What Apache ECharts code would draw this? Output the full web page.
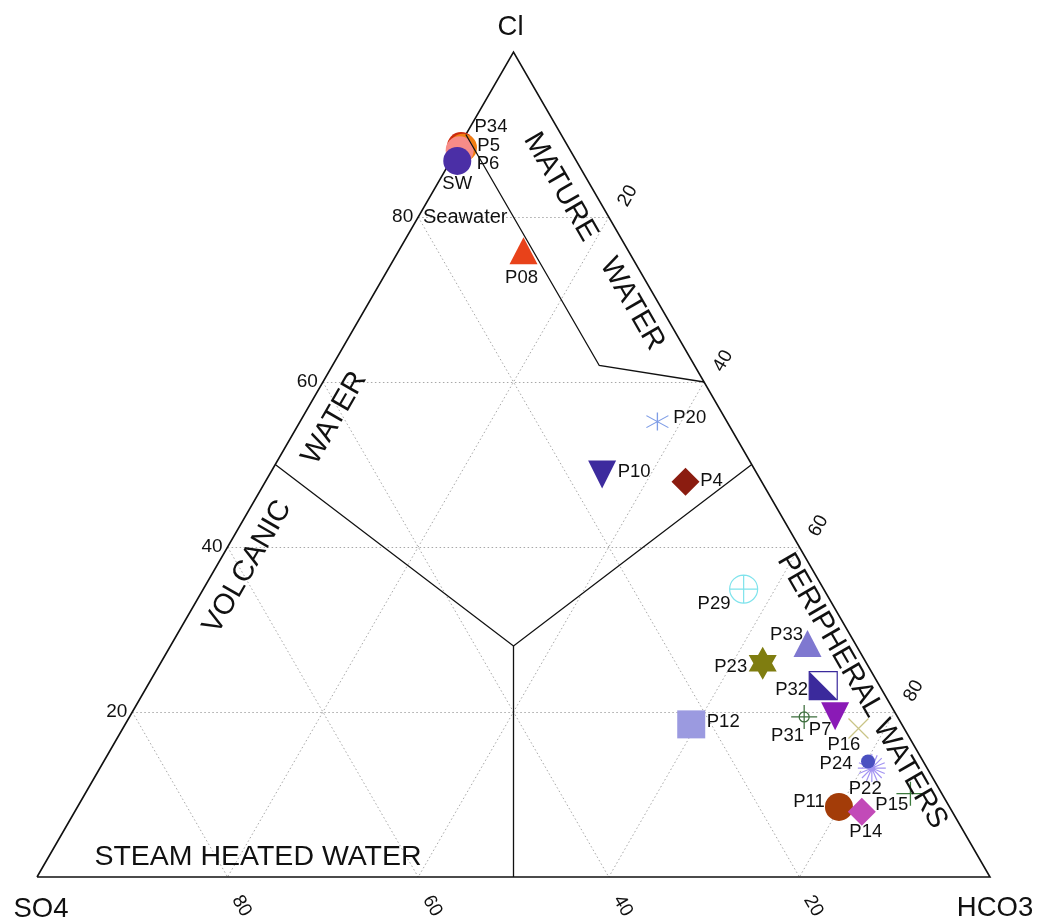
<!DOCTYPE html>
<html>
<head>
<meta charset="utf-8">
<script src="https://cdn.jsdelivr.net/npm/echarts@6/dist/echarts.min.js"></script>
<style>
  html, body { margin: 0; padding: 0; background: #ffffff; }
  #chart { width: 1037px; height: 922px; }
</style>
</head>
<body>
<div id="chart"></div>
<script>
// Anion composition of the samples (percent Cl, SO4, HCO3)
const samples = ['P6', 'P34', 'P5', 'SW', 'P08', 'P20', 'P10', 'P4', 'P29', 'P33', 'P23', 'P32', 'P12', 'P31', 'P7', 'P16', 'P22', 'P24', 'P15', 'P11', 'P14'];
const cl   = [88.6, 88.4, 88.1, 86.8, 75.9, 55.2, 48.8, 47.9, 34.9, 28.3, 25.9, 23.2, 18.5, 19.4, 19.5, 18.0, 13.2, 14.0, 10.1, 8.5, 7.9];
const so4  = [11.2, 11.1, 11.6, 12.5, 11.0, 7.3, 16.3, 8.0, 8.4, 5.0, 10.9, 5.9, 22.1, 9.8, 6.5, 4.8, 5.8, 5.8, 3.3, 11.6, 9.5];
const hco3 = [0.2, 0.5, 0.3, 0.7, 13.1, 37.5, 34.9, 44.1, 56.7, 66.7, 63.2, 70.9, 59.4, 70.8, 74.0, 77.2, 81.0, 80.2, 86.6, 79.9, 82.6];

// Tick values shared by the three axes
const tickValues = [20, 40, 60, 80];
const apexNames = ['Cl', 'SO4', 'HCO3'];

// Field boundaries, as [Cl, SO4, HCO3]
const matureBoundary = [[90, 10, 0], [62, 10, 28], [60, 0, 40]];
const volcanicBoundary = [[50, 50, 0], [28, 36, 36], [50, 0, 50]];
const steamBoundary = [[28, 36, 36], [0, 50, 50]];

// Field names
const fieldNames = ['MATURE', 'WATER', 'VOLCANIC', 'WATER', 'PERIPHERAL WATERS', 'STEAM HEATED WATER', 'Seawater'];

const FONT = '"Liberation Sans", Arial, Helvetica, sans-serif';
const H = Math.sqrt(3) / 2;

// ternary -> cartesian (SO4 bottom-left, HCO3 bottom-right, Cl at the top)
function toXY(c, s, h) {
  const t = c + s + h;
  return [(h + c / 2) / t * 100, c / t * 100 * H];
}

// custom marker outlines
const hexagram = (function () {
  let d = '';
  for (let i = 0; i < 12; i++) {
    const a = -Math.PI / 2 + i * Math.PI / 6;
    const r = i % 2 === 0 ? 10 : 10 / Math.sqrt(3);
    d += (i ? 'L' : 'M') + (r * Math.cos(a)).toFixed(3) + ',' + (r * Math.sin(a)).toFixed(3);
  }
  return 'path://' + d + 'Z';
})();
const burst = (function () {
  let d = '';
  for (let i = 0; i < 8; i++) {
    const a = i * Math.PI / 8;
    const dx = 10 * Math.cos(a), dy = 10 * Math.sin(a);
    d += 'M' + (-dx).toFixed(3) + ',' + (-dy).toFixed(3) + 'L' + dx.toFixed(3) + ',' + dy.toFixed(3);
  }
  return 'path://' + d;
})();
const asterisk = 'path://M11,0L11,18M0,3L22,15M0,15L22,3';
const bigCrosshair = 'path://M14,0A14,14,0,1,1,14,28A14,14,0,1,1,14,0ZM14,0L14,28M0,14L28,14';
const smallCrosshair = 'path://M13,7A5,5,0,1,1,13,17A5,5,0,1,1,13,7ZM13,0L13,24M0,12L26,12';
const cross = 'path://M0,0L20,20M20,0L0,20';
const plus = 'path://M14,0L14,24M0,12L28,12';
const lowerHalf = 'path://M0,0L0,10L10,10Z';

// marker look and label placement per sample
const markerStyle = {
  P6:  { symbol: 'circle', size: 28, color: '#cc2a0c', label: [27, 18] },
  P34: { symbol: 'circle', size: 28, color: '#f07d12', label: [28, -21] },
  P5:  { symbol: 'circle', size: 28, color: '#f78c88', label: [29, -4] },
  SW:  { symbol: 'circle', size: 28, color: '#4b2fa6', label: [0, 23] },
  P08: { symbol: 'triangle', size: [28, 27], color: '#e8421a', label: [-2, 27] },
  P20: { symbol: asterisk, size: [22, 18], color: '#7f9de6', stroke: true, label: [33, -3] },
  P10: { symbol: 'triangle', size: 28, rotate: 180, color: '#3d2b9e', label: [32, -2] },
  P4:  { symbol: 'diamond', size: 28, color: '#8b1c10', label: [26, -1] },
  P29: { symbol: bigCrosshair, size: 28, color: '#7fe3ec', stroke: true, label: [-29, 15] },
  P33: { symbol: 'triangle', size: [28, 27], color: '#7f78d0', label: [-21, -9] },
  P23: { symbol: hexagram, size: [28, 33], color: '#7f7d10', label: [-32, 4] },
  P32: { symbol: 'rect', size: 28, color: '#ffffff', border: '#3b2a9c', overlay: lowerHalf, label: [-31, 5] },
  P12: { symbol: 'rect', size: 28, color: '#9b9ae0', label: [32, -2] },
  P31: { symbol: smallCrosshair, size: [26, 24], color: '#3d6e3d', stroke: true, label: [-16, 20] },
  P7:  { symbol: 'triangle', size: 28, rotate: 180, color: '#8a1ab6', label: [-15, 14] },
  P16: { symbol: cross, size: 20, color: '#c9c486', stroke: true, label: [-14, 17] },
  P22: { symbol: burst, size: 28, color: '#a394f2', stroke: true, label: [-6, 21] },
  P24: { symbol: 'circle', size: 14, color: '#4a50c0', label: [-32, 2] },
  P15: { symbol: plus, size: [28, 24], color: '#3d7a3d', stroke: true, label: [-18, 12] },
  P11: { symbol: 'circle', size: 28, color: '#a33c08', label: [-30, -5] },
  P14: { symbol: 'diamond', size: 28, color: '#c24ab8', label: [4, 20] }
};

const chart = echarts.init(document.getElementById('chart'), null, { renderer: 'canvas' });

// dotted reference grid
const gridSegments = [];
tickValues.forEach(function (v) {
  gridSegments.push({ coords: [toXY(v, 100 - v, 0), toXY(v, 0, 100 - v)] });
  gridSegments.push({ coords: [toXY(100 - v, v, 0), toXY(0, v, 100 - v)] });
  gridSegments.push({ coords: [toXY(100 - v, 0, v), toXY(0, 100 - v, v)] });
});

const series = [
  {
    type: 'lines', coordinateSystem: 'cartesian2d', polyline: false, silent: true, clip: false, z: 1,
    lineStyle: { color: '#a8a8a8', width: 1, type: [1.5, 2.5], opacity: 1 },
    data: gridSegments
  },
  {
    type: 'lines', coordinateSystem: 'cartesian2d', polyline: true, silent: true, clip: false, z: 2,
    lineStyle: { color: '#111111', width: 1.6, opacity: 1 },
    data: [{ coords: [toXY(0, 100, 0), toXY(0, 0, 100), toXY(100, 0, 0), toXY(0, 100, 0)] }]
  },
  {
    type: 'lines', coordinateSystem: 'cartesian2d', polyline: true, silent: true, clip: false, z: 4,
    lineStyle: { color: '#111111', width: 1.3, opacity: 1 },
    data: [matureBoundary, volcanicBoundary, steamBoundary].map(function (b) {
      return { coords: b.map(function (p) { return toXY(p[0], p[1], p[2]); }) };
    })
  }
];

samples.forEach(function (name, i) {
  const st = markerStyle[name];
  const pos = toXY(cl[i], so4[i], hco3[i]);
  const w = Array.isArray(st.size) ? st.size[0] : st.size;
  const h = Array.isArray(st.size) ? st.size[1] : st.size;
  const itemStyle = st.stroke
    ? { color: 'rgba(0,0,0,0)', borderColor: st.color, borderWidth: 1.2, opacity: 1 }
    : st.border
      ? { color: st.color, borderColor: st.border, borderWidth: 1.2, opacity: 1 }
      : { color: st.color, opacity: 1 };
  series.push({
    type: 'scatter', name: name, z: 3, silent: true, clip: false,
    symbol: st.symbol, symbolSize: st.size, symbolRotate: st.rotate || 0,
    itemStyle: itemStyle,
    emphasis: { disabled: true },
    label: {
      show: true,
      // label box position measured from the marker's top-left corner
      position: [w / 2 + st.label[0], h / 2 + st.label[1]],
      align: 'center', verticalAlign: 'middle',
      formatter: name, color: '#111111', fontSize: 18.5, fontFamily: FONT
    },
    data: [{ name: name, value: pos }]
  });
  if (st.overlay) {
    series.push({
      type: 'scatter', z: 3, silent: true, clip: false,
      symbol: st.overlay, symbolSize: st.size,
      itemStyle: { color: st.border, opacity: 1 },
      emphasis: { disabled: true },
      data: [{ name: name, value: pos }]
    });
  }
});

chart.setOption({
  animation: false,
  backgroundColor: '#ffffff',
  grid: { left: 37, top: 52, width: 953, height: 825 },
  xAxis: { type: 'value', min: 0, max: 100, show: false },
  yAxis: { type: 'value', min: 0, max: 100 * H, show: false },
  series: series
});

// text placed at the pixel positions of ternary points
function px(c, s, h) { return chart.convertToPixel({ gridIndex: 0 }, toXY(c, s, h)); }
function textItem(x, y, text, size, rot, align) {
  return {
    type: 'text', x: x, y: y, rotation: rot || 0, silent: true, z: 10,
    style: {
      text: text, fill: '#111111', fontSize: size, fontFamily: FONT,
      textAlign: align || 'center', textVerticalAlign: 'middle',
      align: align || 'center', verticalAlign: 'middle'
    }
  };
}

const texts = [];
tickValues.forEach(function (v) {
  const l = px(v, 100 - v, 0);
  texts.push(textItem(l[0] - 5, l[1], String(v), 19, 0, 'right'));
  const r = px(100 - v, 0, v);
  texts.push(textItem(r[0] + 19, r[1] - 21, String(v), 19, Math.PI / 3));
  const b = px(0, v, 100 - v);
  texts.push(textItem(b[0] + 14, b[1] + 29, String(v), 19, -Math.PI / 3));
});

const apexCl = px(100, 0, 0), apexSO4 = px(0, 100, 0), apexHCO3 = px(0, 0, 100);
texts.push(textItem(apexCl[0] - 3, apexCl[1] - 25, apexNames[0], 27.5));
texts.push(textItem(apexSO4[0] + 4, apexSO4[1] + 32, apexNames[1], 27.5));
texts.push(textItem(apexHCO3[0] + 5, apexHCO3[1] + 31, apexNames[2], 27.5));

texts.push(textItem(560.5, 187, fieldNames[0], 29, -Math.PI / 3));
texts.push(textItem(632, 304, fieldNames[1], 29, -Math.PI / 3));
texts.push(textItem(247.5, 567, fieldNames[2], 29, Math.PI / 3));
texts.push(textItem(334.5, 418, fieldNames[3], 29, Math.PI / 3));
texts.push(textItem(862, 691, fieldNames[4], 29, -Math.PI / 3));
texts.push(textItem(258, 857, fieldNames[5], 28.5, 0));
texts.push(textItem(423, 217, fieldNames[6], 20, 0, 'left'));

chart.setOption({ graphic: { elements: texts } });
</script>
</body>
</html>
